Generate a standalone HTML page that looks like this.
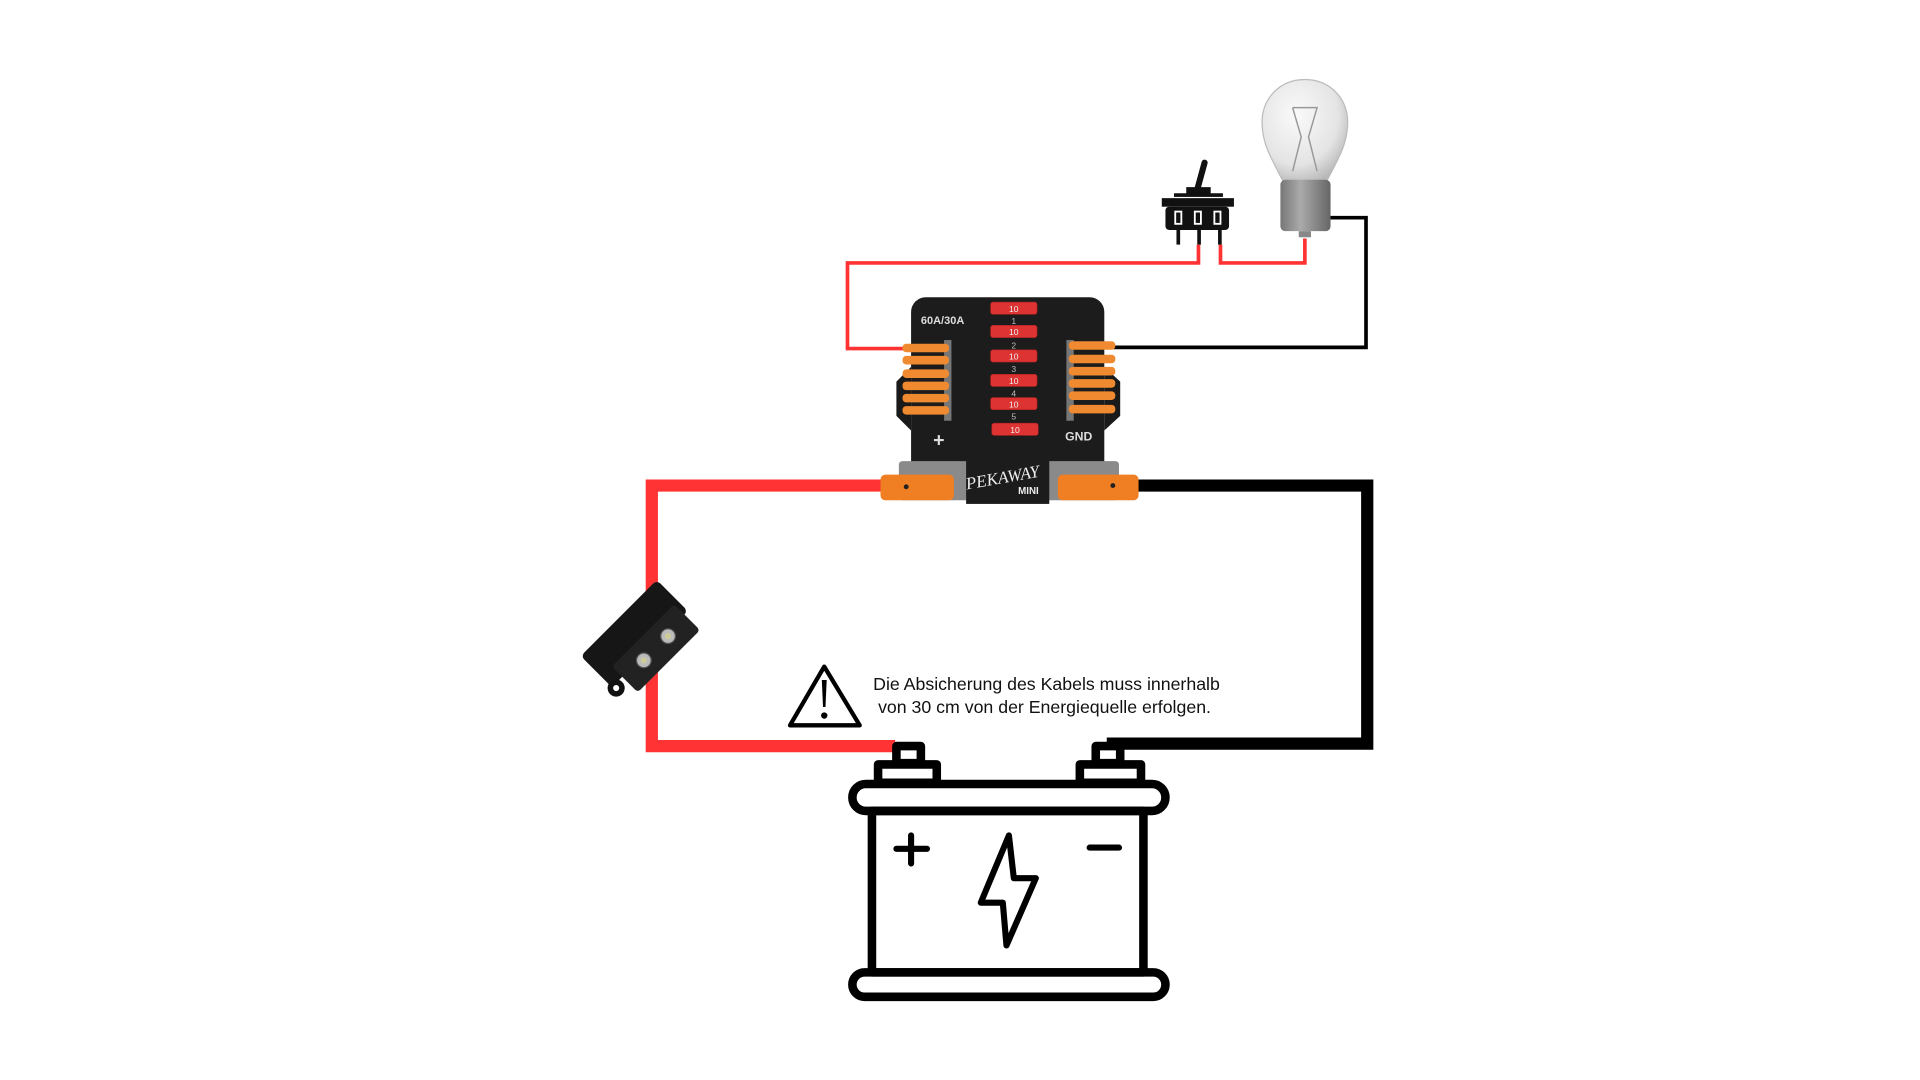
<!DOCTYPE html>
<html><head><meta charset="utf-8"><style>
html,body{margin:0;padding:0;background:#fff;width:1920px;height:1080px;overflow:hidden}
svg{display:block}
</style></head><body>
<svg width="1920" height="1080" viewBox="0 0 1570 883" preserveAspectRatio="none" xmlns="http://www.w3.org/2000/svg">
<rect width="1570" height="883" fill="#fff"/>
<!-- thin wires -->
<polyline points="980,200 980,215 693,215 693,285 742,285" fill="none" stroke="#f33" stroke-width="3"/>
<polyline points="998,200 998,215 1067,215 1067,195" fill="none" stroke="#f33" stroke-width="3"/>
<polyline points="1070,178 1117,178 1117,284 905,284" fill="none" stroke="#000" stroke-width="3"/>
<!-- thick wires -->
<polyline points="722,397 533,397 533,610 732,610" fill="none" stroke="#f33" stroke-width="10"/>
<polyline points="928,397 1118,397 1118,608 905,608" fill="none" stroke="#000" stroke-width="10"/>

<!-- switch -->
<line x1="979" y1="155" x2="985" y2="133" stroke="#111" stroke-width="5" stroke-linecap="round"/>
<rect x="970" y="153" width="20" height="6" fill="#111"/>
<rect x="960" y="158" width="40" height="3" fill="#111"/>
<rect x="950" y="162" width="59" height="7" fill="#111"/>
<rect x="953" y="169" width="52" height="19" rx="3" fill="#111"/>
<rect x="961" y="173" width="5" height="10" fill="none" stroke="#fff" stroke-width="1.5"/>
<rect x="977" y="173" width="5" height="10" fill="none" stroke="#fff" stroke-width="1.5"/>
<rect x="993" y="173" width="5" height="10" fill="none" stroke="#fff" stroke-width="1.5"/>
<rect x="962" y="188" width="3" height="12" fill="#111"/>
<rect x="979" y="188" width="3" height="12" fill="#111"/>
<rect x="996" y="188" width="3" height="12" fill="#111"/>

<!-- bulb -->
<defs>
<radialGradient id="gl" cx="0.4" cy="0.35" r="0.7"><stop offset="0" stop-color="#fafafa"/><stop offset="0.7" stop-color="#e4e4e4"/><stop offset="1" stop-color="#b8b8b8"/></radialGradient>
<linearGradient id="bs" x1="0" x2="1"><stop offset="0" stop-color="#777"/><stop offset="0.4" stop-color="#aaa"/><stop offset="1" stop-color="#666"/></linearGradient>
</defs>
<path d="M1049,148 C1040,130 1032,118 1032,100 C1032,80 1047,65 1067,65 C1087,65 1102,80 1102,100 C1102,118 1094,130 1085,148 Z" fill="url(#gl)" stroke="#bbb"/>
<path d="M1057,88 L1077,88 L1070,112 L1077,140 M1057,88 L1064,112 L1057,140" fill="none" stroke="#999" stroke-width="1.2"/>
<rect x="1047" y="147" width="41" height="42" rx="4" fill="url(#bs)"/>
<rect x="1062" y="189" width="10" height="5" fill="#888"/>

<!-- fuse box -->
<path d="M745,300 L733,312 L733,340 L745,352 Z M903,300 L916,312 L916,340 L903,352 Z" fill="#1a1a1a"/>
<rect x="745" y="243" width="158" height="150" rx="12" fill="#1c1c1c"/>
<text x="753" y="265" font-family="Liberation Sans Narrow, Liberation Sans, sans-serif" font-size="9" font-weight="bold" fill="#ddd">60A/30A</text>
<text x="763" y="365" font-family="Liberation Sans, sans-serif" font-size="16" font-weight="bold" fill="#ddd">+</text>
<text x="871" y="360" font-family="Liberation Sans, sans-serif" font-size="10" font-weight="bold" fill="#ddd">GND</text>
<g fill="#d33" stroke="#a22" stroke-width="0.5">
<rect x="810" y="247" width="38" height="10" rx="2"/><rect x="810" y="266" width="38" height="10" rx="2"/>
<rect x="810" y="286" width="38" height="10" rx="2"/><rect x="810" y="306" width="38" height="10" rx="2"/>
<rect x="810" y="325" width="38" height="10" rx="2"/><rect x="811" y="346" width="38" height="10" rx="2"/>
</g>
<g font-family="Liberation Sans, sans-serif" font-size="7" fill="#eee" text-anchor="middle">
<text x="829" y="255">10</text><text x="829" y="274">10</text><text x="829" y="294">10</text><text x="829" y="314">10</text><text x="829" y="333">10</text><text x="830" y="354">10</text>
<text x="829" y="265" fill="#bbb">1</text><text x="829" y="285" fill="#bbb">2</text><text x="829" y="304" fill="#bbb">3</text><text x="829" y="324" fill="#bbb">4</text><text x="829" y="343" fill="#bbb">5</text>
</g>
<g fill="#777"><rect x="772" y="278" width="6" height="66"/><rect x="872" y="278" width="6" height="66"/></g>
<g fill="#f08a30">
<rect x="738" y="281" width="38" height="7" rx="3"/><rect x="738" y="291" width="38" height="7" rx="3"/><rect x="738" y="302" width="38" height="7" rx="3"/><rect x="738" y="312" width="38" height="7" rx="3"/><rect x="738" y="322" width="38" height="7" rx="3"/><rect x="738" y="332" width="38" height="7" rx="3"/>
<rect x="874" y="279" width="38" height="7" rx="3"/><rect x="874" y="290" width="38" height="7" rx="3"/><rect x="874" y="300" width="38" height="7" rx="3"/><rect x="874" y="310" width="38" height="7" rx="3"/><rect x="874" y="320" width="38" height="7" rx="3"/><rect x="874" y="331" width="38" height="7" rx="3"/>
</g>
<rect x="735" y="377" width="180" height="32" rx="3" fill="#8a8a8a"/>
<rect x="790" y="375" width="68" height="37" fill="#1c1c1c"/>
<text x="820" y="395" font-family="Liberation Serif, serif" font-style="italic" font-size="14" fill="#eee" text-anchor="middle" transform="rotate(-10 820 392)">PEKAWAY</text>
<text x="841" y="404" font-family="Liberation Sans, sans-serif" font-size="8" font-weight="bold" fill="#eee" text-anchor="middle">MINI</text>
<rect x="720" y="388" width="60" height="21" rx="4" fill="#ef7f22"/>
<rect x="865" y="388" width="66" height="21" rx="4" fill="#ef7f22"/>
<circle cx="741" cy="398" r="2" fill="#222"/><circle cx="910" cy="397" r="2" fill="#222"/>

<!-- inline fuse holder -->
<g transform="rotate(-45 530 518)">
<rect x="478" y="492" width="88" height="36" rx="4" fill="#161616"/>
<rect x="490" y="516" width="72" height="30" rx="3" fill="#222"/>
<circle cx="540" cy="531" r="6" fill="#bbb" stroke="#555"/><circle cx="540" cy="531" r="2.5" fill="#cc9"/>
<circle cx="512" cy="531" r="6" fill="#bbb" stroke="#555"/><circle cx="512" cy="531" r="2.5" fill="#cc9"/>
<circle cx="480" cy="531" r="7" fill="#111"/><circle cx="480" cy="531" r="2.5" fill="#fff"/>
</g>

<!-- warning -->
<path d="M674,545 L703,593 L646,593 Z" fill="#fff" stroke="#000" stroke-width="3.5" stroke-linejoin="round"/>
<path d="M672,556 L676,556 L675,578 L673,578 Z" fill="#000"/>
<circle cx="674" cy="585" r="2.6" fill="#000"/>
<g font-family="Liberation Sans, sans-serif" font-size="14.5" fill="#111">
<text x="714" y="564">Die Absicherung des Kabels muss innerhalb</text>
<text x="718" y="583">von 30 cm von der Energiequelle erfolgen.</text>
</g>

<!-- battery -->
<g fill="none" stroke="#000" stroke-width="7" stroke-linejoin="round">
<rect x="733" y="610" width="20" height="14"/>
<rect x="718" y="625" width="48" height="15"/>
<rect x="896" y="610" width="20" height="14"/>
<rect x="883" y="625" width="50" height="15"/>
<rect x="697" y="641" width="256" height="22" rx="11"/>
<rect x="713" y="663" width="222" height="132"/>
<rect x="697" y="795" width="256" height="20" rx="10"/>
</g>
<path d="M745,683 V706 M733,694 H758 M891,693 H915" stroke="#000" stroke-width="5" stroke-linecap="round"/>
<path d="M825,683 L802,738 L820,738 L823,773 L847,718 L829,718 Z" fill="none" stroke="#000" stroke-width="5" stroke-linejoin="round"/>
</svg>
</body></html>
